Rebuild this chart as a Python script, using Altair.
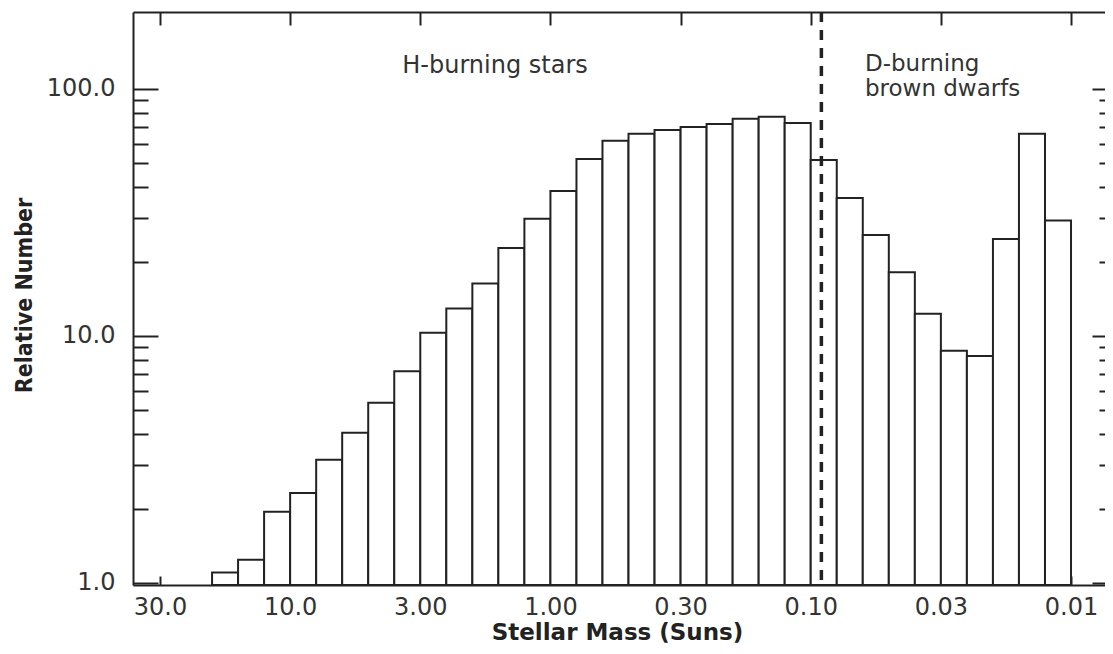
import altair as alt
import pandas as pd

# ---- data ----
# bin edges in solar masses (0.1 dex bins, 20 Msun down to 0.01 Msun)
BIN_EDGES = [19.95, 15.85, 12.59, 10.0, 7.943, 6.310, 5.012, 3.981, 3.162, 2.512,
             1.995, 1.585, 1.259, 1.0, 0.7943, 0.6310, 0.5012, 0.3981, 0.3162, 0.2512,
             0.1995, 0.1585, 0.1259, 0.1, 0.07943, 0.06310, 0.05012, 0.03981, 0.03162,
             0.02512, 0.01995, 0.01585, 0.01259, 0.01]
COUNTS = [1.10, 1.24, 1.94, 2.31, 3.15, 4.05, 5.36, 7.2, 10.3, 12.9,
          16.3, 22.7, 29.8, 38.6, 52.1, 61.7, 65.8, 68.2, 70.2, 72.1,
          75.7, 77.1, 72.8, 51.6, 36.2, 25.6, 18.1, 12.3, 8.7, 8.3,
          24.7, 65.8, 29.3]

X_TICK_VALUES = [31.62, 10.0, 3.162, 1.0, 0.3162, 0.1, 0.03162, 0.01]
X_TICK_LABELS = ["30.0", "10.0", "3.00", "1.00", "0.30", "0.10", "0.03", "0.01"]
Y_LABEL_VALUES = [1, 10, 100]
Y_MAJOR = [1, 10, 100]
Y_TICK_VALUES = [1, 2, 3, 4, 5, 6, 7, 8, 9, 10, 20, 30, 40, 50, 60, 70, 80, 90, 100]

H_LIMIT_MASS = [0.091]
NOTE_H = {"m": [1.633], "v": [116.0], "t": ["H-burning stars"]}
NOTE_D = {"m": [0.0619], "v": [118.0], "t": ["D-burning\nbrown dwarfs"]}

X_DOMAIN = [0.00637, 40.15]
Y_DOMAIN = [0.98, 205.0]

W, H = 989, 573
CLIP_RIGHT = 17          # part of the plot that lies beyond the picture's right edge
INK = "#222222"
TXT = "#333333"
FONT = "DejaVu Sans"

bars = pd.DataFrame({
    "m_hi": BIN_EDGES[:-1],
    "m_lo": BIN_EDGES[1:],
    "n": COUNTS,
    "base": [Y_DOMAIN[0]] * len(COUNTS),
})

# label expression built from the tick lists
expr = "'" + X_TICK_LABELS[-1] + "'"
for i in range(len(X_TICK_VALUES) - 2, -1, -1):
    thr = (X_TICK_VALUES[i] * X_TICK_VALUES[i + 1]) ** 0.5
    expr = f"datum.value > {thr:.5f} ? '{X_TICK_LABELS[i]}' : ({expr})"

major_test = " || ".join(f"datum.value === {v}" for v in Y_MAJOR)

xscale = alt.Scale(type="log", domain=X_DOMAIN, reverse=True, nice=False)
yscale = alt.Scale(type="log", domain=Y_DOMAIN, nice=False)

ax_x_labels = alt.Axis(orient="bottom", values=X_TICK_VALUES, labelExpr=expr,
                       ticks=False, tickSize=0, domain=True, domainColor=INK, domainWidth=2,
                       labelFont=FONT, labelFontSize=24, labelColor=TXT, labelPadding=10,
                       labelFlush=False, labelOverlap=False, grid=False,
                       title="Stellar Mass (Suns)", titleFont=FONT, titleFontSize=23,
                       titleFontWeight="bold", titleColor=INK, titleX=484, titleY=54,
                       titleBaseline="alphabetic", titleAlign="center")
ax_x_top = alt.Axis(orient="bottom", offset=-H, values=X_TICK_VALUES, labels=False,
                    ticks=True, tickSize=13, tickWidth=2, tickColor=INK,
                    domain=True, domainColor=INK, domainWidth=2, grid=False, title=None)
ax_x_bot = alt.Axis(orient="top", offset=-H, values=X_TICK_VALUES, labels=False,
                    ticks=True, tickSize=9, tickWidth=2, tickColor=INK,
                    domain=False, grid=False, title=None)

ax_y_labels = alt.Axis(orient="left", values=Y_LABEL_VALUES, format=".1f",
                       ticks=False, tickSize=0, domain=True, domainColor=INK, domainWidth=2,
                       labelFont=FONT, labelFontSize=24, labelColor=TXT, labelPadding=18,
                       grid=False, title="Relative Number",
                       titleFont="Liberation Sans Narrow, DejaVu Sans Condensed, Liberation Sans",
                       titleFontSize=23, titleFontWeight="bold", titleColor=INK,
                       titleAngle=270, titleX=-102, titleY=283,
                       titleBaseline="alphabetic", titleAlign="center")
tick_left = {"condition": {"test": major_test, "value": 25}, "value": 15}
tick_right = {"condition": {"test": major_test, "value": 13}, "value": 6}
ax_y_left_in = alt.Axis(orient="right", offset=-W, values=Y_TICK_VALUES, labels=False,
                        ticks=True, tickSize=tick_left, tickWidth=2, tickColor=INK,
                        domain=False, grid=False, title=None)
ax_y_right_in = alt.Axis(orient="left", offset=-(W - CLIP_RIGHT), values=Y_TICK_VALUES,
                         labels=False, ticks=True, tickSize=tick_right, tickWidth=2,
                         tickColor=INK, domain=False, grid=False, title=None)

bar_layer = alt.Chart(bars).mark_bar(fill="white", stroke=INK, strokeWidth=2).encode(
    x=alt.X("m_hi:Q", scale=xscale, axis=ax_x_labels),
    x2="m_lo:Q",
    y=alt.Y("n:Q", scale=yscale, axis=ax_y_labels, stack=None),
    y2="base:Q",
)

limit_layer = alt.Chart(pd.DataFrame({"m": H_LIMIT_MASS})).mark_rule(
    stroke=INK, strokeWidth=3.5, strokeDash=[10, 8]
).encode(x=alt.X("m:Q", scale=xscale, axis=None))

note_h = alt.Chart(pd.DataFrame(NOTE_H)).mark_text(
    font=FONT, fontSize=24, color=TXT, align="center", baseline="alphabetic"
).encode(
    x=alt.X("m:Q", scale=xscale, axis=ax_x_top),
    y=alt.Y("v:Q", scale=yscale, axis=ax_y_left_in),
    text="t:N",
)

note_d = alt.Chart(pd.DataFrame(NOTE_D)).mark_text(
    font=FONT, fontSize=23, color=TXT, align="left", baseline="alphabetic",
    lineBreak="\n", lineHeight=25
).encode(
    x=alt.X("m:Q", scale=xscale, axis=ax_x_bot),
    y=alt.Y("v:Q", scale=yscale, axis=ax_y_right_in),
    text="t:N",
)

chart = alt.layer(bar_layer, limit_layer, note_h, note_d).resolve_axis(
    x="independent", y="independent"
).properties(
    width=W, height=H,
    autosize=alt.AutoSizeParams(type="none"),
    padding={"left": 125, "top": 4, "right": -CLIP_RIGHT, "bottom": 61},
    background="white",
).configure_view(stroke=None)

chart.save("out.html", embed_options={"renderer": "svg", "actions": False})
